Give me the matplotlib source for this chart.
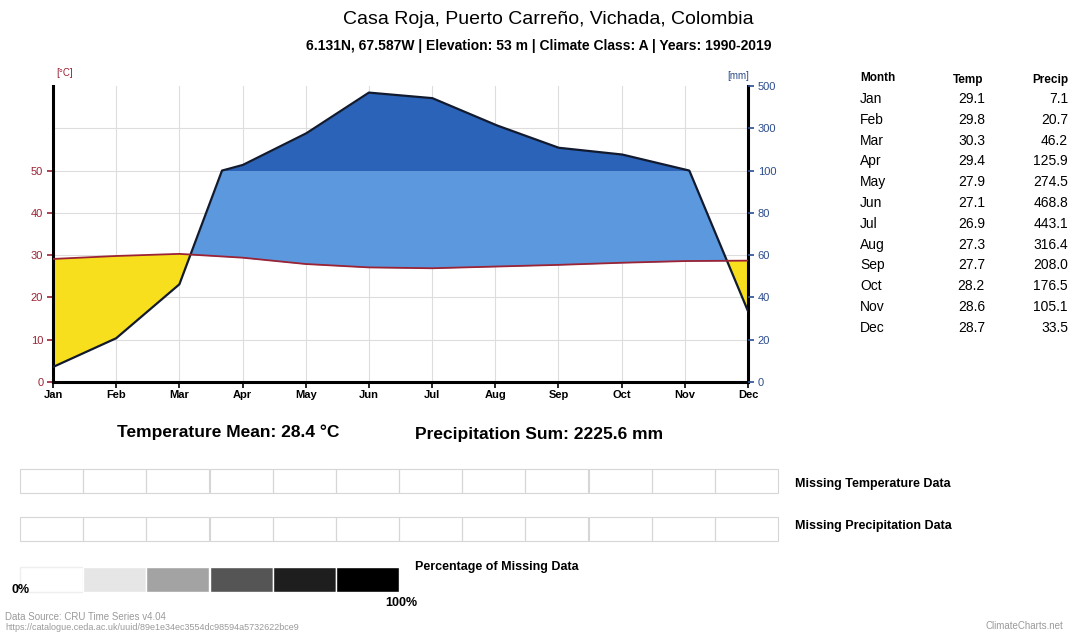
import numpy as np
import matplotlib.pyplot as plt
from matplotlib.patches import Rectangle

plt.rcParams['font.family'] = ['Liberation Sans', 'DejaVu Sans']

# Climate data (Casa Roja, Puerto Carreño)
months = ["Jan", "Feb", "Mar", "Apr", "May", "Jun",
          "Jul", "Aug", "Sep", "Oct", "Nov", "Dec"]
temp = [29.1, 29.8, 30.3, 29.4, 27.9, 27.1, 26.9, 27.3, 27.7, 28.2, 28.6, 28.7]
precip = [7.1, 20.7, 46.2, 125.9, 274.5, 468.8, 443.1, 316.4, 208.0, 176.5, 105.1, 33.5]
temp_mean = 28.4
precip_sum = 2225.6
temp_ticks = [0, 10, 20, 30, 40, 50]
precip_ticks = [0, 20, 40, 60, 80, 100, 300, 500]

temp_col = "#9b2335"
precip_col = "#2b4c8c"


def p2t(p):
    # Walter-Lieth scale: 2 mm per degC up to 100 mm, then 20 mm per degC
    p = np.asarray(p, dtype=float)
    return np.where(p <= 100, p / 2.0, 50 + (p - 100) / 20.0)


idx = np.arange(len(months))
xd = np.linspace(0, len(months) - 1, 2201)
temp_d = np.interp(xd, idx, temp)
prec_d = p2t(np.interp(xd, idx, precip))

fig = plt.figure(figsize=(10.7, 6.32), dpi=100)
ax = fig.add_axes([53 / 1070, 1 - 382 / 632, 695 / 1070, 296 / 632])

ax.fill_between(xd, prec_d, temp_d, where=temp_d >= prec_d, interpolate=True,
                color="#f7df1e", lw=0, zorder=2)
ax.fill_between(xd, temp_d, np.minimum(prec_d, 50), where=prec_d >= temp_d,
                interpolate=True, color="#5b98dd", lw=0, zorder=2)
ax.fill_between(xd, 50, prec_d, where=prec_d >= 50, interpolate=True,
                color="#2a63b8", lw=0, zorder=2)
ax.plot(xd, prec_d, color="#111a2e", lw=1.6, zorder=4)
ax.plot(idx, temp, color=temp_col, lw=1.3, zorder=4)

ax.set_xlim(0, len(months) - 1)
ax.set_ylim(0, 70)
ax.set_xticks(idx)
ax.set_xticklabels(months, fontsize=8, fontweight="bold")
ax.set_yticks(temp_ticks)
ax.set_yticklabels([str(t) for t in temp_ticks], fontsize=8, color=temp_col)
ax.tick_params(axis="x", length=4, width=1.2, pad=2)
ax.tick_params(axis="y", length=4, width=1.2, pad=3, colors=temp_col)
ax.grid(True, color="#dddddd", lw=0.8, zorder=0)
ax.axhline(60, color="#dddddd", lw=0.8, zorder=0)
for s in ["left", "right", "bottom"]:
    ax.spines[s].set_linewidth(2.2)
    ax.spines[s].set_color("black")
ax.spines["top"].set_visible(False)

ax2 = ax.twinx()
ax2.set_ylim(0, 70)
ax2.set_yticks(p2t(precip_ticks))
ax2.set_yticklabels([str(p) for p in precip_ticks], fontsize=8, color=precip_col)
ax2.tick_params(axis="y", length=4, width=1.2, pad=3, colors=precip_col)
for s in ["left", "right", "bottom", "top"]:
    ax2.spines[s].set_visible(False)

fig.text(65 / 1070, 1 - 73 / 632, "[°C]", fontsize=7, color=temp_col, ha="center", va="center")
fig.text(738 / 1070, 1 - 76 / 632, "[mm]", fontsize=7, color=precip_col, ha="center", va="center")

# Titles
fig.text(548 / 1070, 1 - 20 / 632, "Casa Roja, Puerto Carreño, Vichada, Colombia",
         fontsize=14, ha="center", va="center")
fig.text(539 / 1070, 1 - 46 / 632,
         "6.131N, 67.587W | Elevation: 53 m | Climate Class: A | Years: 1990-2019",
         fontsize=10, fontweight="bold", ha="center", va="center")

fig.text(117 / 1070, 1 - 432 / 632, "Temperature Mean: %.1f °C" % temp_mean,
         fontsize=12.5, fontweight="bold", va="center")
fig.text(415 / 1070, 1 - 434 / 632, "Precipitation Sum: %.1f mm" % precip_sum,
         fontsize=12.5, fontweight="bold", va="center")

# Table
row_y0, row_dy = 99, 20.8
fig.text(860 / 1070, 1 - 78 / 632, "Month", fontsize=8.5, fontweight="bold", va="center")
fig.text(983 / 1070, 1 - 80 / 632, "Temp", fontsize=8.5, fontweight="bold", va="center", ha="right")
fig.text(1068 / 1070, 1 - 80 / 632, "Precip", fontsize=8.5, fontweight="bold", va="center", ha="right")
for i, m in enumerate(months):
    y = 1 - (row_y0 + i * row_dy) / 632
    fig.text(860 / 1070, y, m, fontsize=10, va="center")
    fig.text(985 / 1070, y, "%.1f" % temp[i], fontsize=10, va="center", ha="right")
    fig.text(1068 / 1070, y, "%.1f" % precip[i], fontsize=10, va="center", ha="right")

# Missing data panels
bg = fig.add_axes([0, 0, 1, 1], zorder=-1)
bg.set_xlim(0, 1070)
bg.set_ylim(632, 0)
bg.axis("off")
cell_w = (778 - 20) / 12
for y0 in (469, 517):
    for i in range(12):
        bg.add_patch(Rectangle((20 + i * cell_w, y0), cell_w, 24, fill=False,
                               ec="#d6d6d6", lw=0.8))
shades = ["#ffffff", "#e6e6e6", "#a3a3a3", "#555555", "#1e1e1e", "#000000"]
for i, c in enumerate(shades):
    bg.add_patch(Rectangle((20 + i * cell_w, 567), cell_w, 25, fc=c,
                           ec="#eeeeee" if i == 0 else "white", lw=1))
bg.text(795, 484, "Missing Temperature Data", fontsize=9, fontweight="bold", va="center")
bg.text(795, 526, "Missing Precipitation Data", fontsize=9, fontweight="bold", va="center")
bg.text(415, 567, "Percentage of Missing Data", fontsize=9, fontweight="bold", va="center")
bg.text(12, 590, "0%", fontsize=9, fontweight="bold", va="center")
bg.text(385, 603, "100%", fontsize=9, fontweight="bold", va="center")

bg.text(5, 617, "Data Source: CRU Time Series v4.04", fontsize=7, color="#9a9a9a", va="center")
bg.text(5, 627, "https://catalogue.ceda.ac.uk/uuid/89e1e34ec3554dc98594a5732622bce9",
        fontsize=6.5, color="#9a9a9a", va="center")
bg.text(1063, 626, "ClimateCharts.net", fontsize=7, color="#9a9a9a", va="center", ha="right")

fig.savefig("out.png", dpi=100, facecolor="white")
